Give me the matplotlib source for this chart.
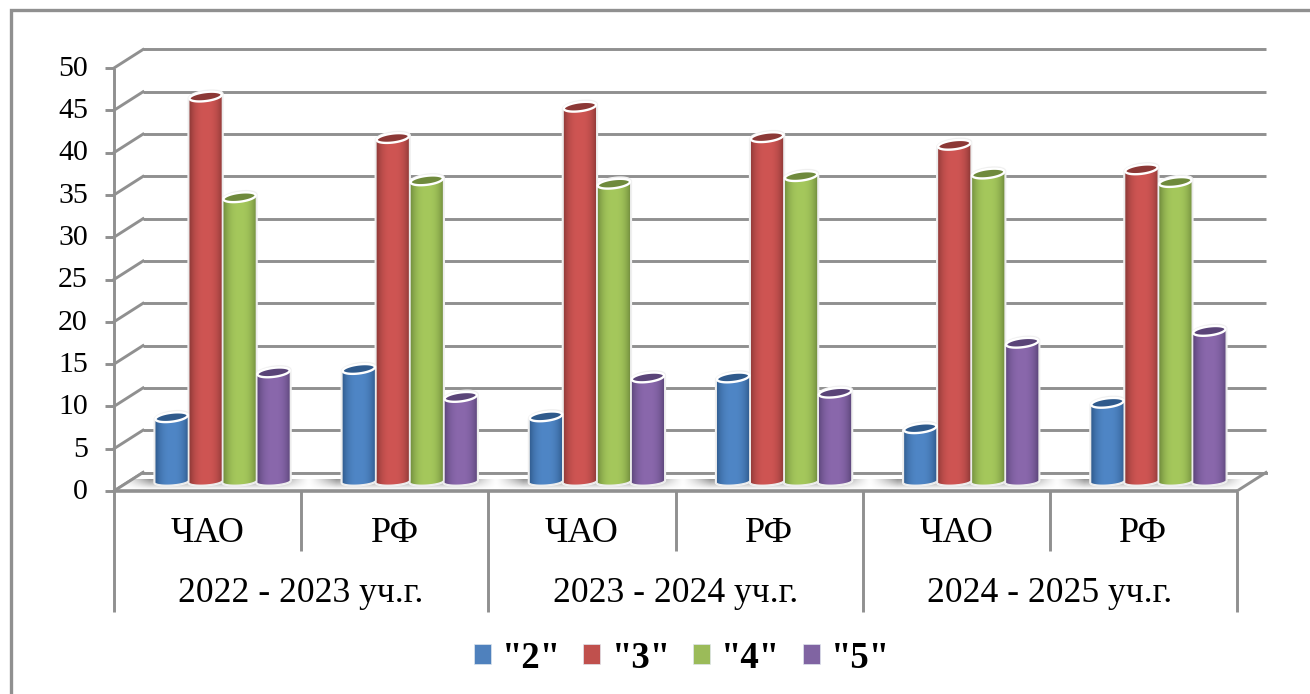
"""Столбчатая диаграмма "цилиндры": распределение отметок, ЧАО и РФ по годам."""

import numpy as np
import matplotlib
matplotlib.use("Agg")
import matplotlib.pyplot as plt
from matplotlib.patches import Patch, Polygon

plt.rcParams["font.family"] = ["Liberation Serif", "DejaVu Serif"]

REGIONS = ["ЧАО", "РФ", "ЧАО", "РФ", "ЧАО", "РФ"]
YEARS = ["2022 - 2023 уч.г.", "2023 - 2024 уч.г.", "2024 - 2025 уч.г."]
GRADE_LABELS = ['"2"', '"3"', '"4"', '"5"']

GRADE_2 = [7.6, 13.3, 7.7, 12.3, 6.3, 9.3]
GRADE_3 = [45.5, 40.6, 44.3, 40.7, 39.8, 36.9]
GRADE_4 = [33.6, 35.6, 35.2, 36.1, 36.4, 35.4]
GRADE_5 = [12.9, 10.0, 12.3, 10.5, 16.4, 17.8]
SERIES = [GRADE_2, GRADE_3, GRADE_4, GRADE_5]

YTICKS = list(range(0, 51, 5))

COLORS = ["#4f81bd", "#c0504d", "#9bbb59", "#8064a2"]
LIGHT = ["#4f86c6", "#cf5553", "#a5c85c", "#8a68ac"]
DARK = ["#2f5a8c", "#8c3836", "#6f8a3c", "#5a4478"]
GRID = "#909090"

W, H = 1310, 694
X0, Y0 = 114, 491          # начало оси, пиксели
PX_X = (1237 - 114) / 6    # пикселей на категорию
PX_Y = (491 - 68) / 50     # пикселей на единицу
DEPTH_X = 29 / PX_X
DEPTH_Y = 18.5 / PX_Y


def ellipse_pts(cx, cy, rx, ry, tilt, start=0.0, stop=2 * np.pi, n=60):
    # эллипс в единицах данных, tilt - подъем правого края (в долях ry)
    a = np.linspace(start, stop, n)
    return np.column_stack([cx + rx * np.cos(a),
                            cy + ry * np.sin(a) + tilt * ry * np.cos(a)])


def draw_cylinder(ax, xc, base, value, idx):
    rx = 16.8 / PX_X
    ry_top = 5.5 / PX_Y
    ry_bottom = 3.6 / PX_Y
    top = base + value
    bottom = ellipse_pts(xc, base, rx, ry_bottom, 0.3, np.pi, 2 * np.pi)
    upper = ellipse_pts(xc, top, rx, ry_top, 0.42, 0, np.pi)
    outline = np.vstack([bottom, upper])
    body = Polygon(outline, closed=True, facecolor=COLORS[idx], edgecolor="#f4f4f4",
                   linewidth=2.0, zorder=5)
    ax.add_patch(body)

    # горизонтальный градиент по телу цилиндра
    t = np.linspace(-1, 1, 64)
    weight = np.abs(t) ** 2.6
    rgb_l = np.array(matplotlib.colors.to_rgb(LIGHT[idx]))
    rgb_d = np.array(matplotlib.colors.to_rgb(DARK[idx]))
    img = (rgb_l[None, :] * (1 - weight[:, None]) + rgb_d[None, :] * weight[:, None])[None, :, :]
    im = ax.imshow(img, extent=(xc - rx, xc + rx, base - ry_bottom, top + ry_top), origin="lower",
                   aspect="auto", interpolation="bilinear", zorder=5.1)
    im.set_clip_path(body)
    ax.add_patch(Polygon(outline, closed=True, fill=False, edgecolor="#ececec",
                         linewidth=1.0, zorder=5.2))

    cap = Polygon(ellipse_pts(xc, top, rx * 0.96, ry_top * 0.82, 0.42), closed=True,
                  facecolor=DARK[idx], edgecolor="white", linewidth=1.7, zorder=5.3)
    ax.add_patch(cap)


fig = plt.figure(figsize=(W / 100, H / 100), dpi=100, facecolor="white")
ax = fig.add_axes([0, 0, 1, 1])
ax.set_xlim(-X0 / PX_X, (W - X0) / PX_X)
ax.set_ylim(-(H - Y0) / PX_Y, Y0 / PX_Y)
ax.axis("off")

n_cat = len(REGIONS)
xmin, xmax = ax.get_xlim()
ymin, ymax = ax.get_ylim()

# рамка диаграммы: только слева и сверху
frame_x = xmin + 11 / PX_X
frame_y = ymax - 10 / PX_Y
ax.plot([frame_x, frame_x, xmax], [ymin, frame_y, frame_y], color=GRID, lw=2.4, zorder=1,
        solid_joinstyle="miter")

# сетка: задняя стенка, диагонали и засечки
lw = 2.1
for v in YTICKS:
    ax.plot([DEPTH_X, n_cat + DEPTH_X], [v + DEPTH_Y, v + DEPTH_Y], color=GRID, lw=lw, zorder=2,
            solid_capstyle="butt")
    ax.plot([0, DEPTH_X], [v, v + DEPTH_Y], color=GRID, lw=lw, zorder=2)
    ax.plot([-9 / PX_X, 0], [v, v], color=GRID, lw=lw, zorder=2, solid_capstyle="butt")
    ax.text(-26 / PX_X, v - 0.1, str(v), ha="right", va="center", fontsize=21.5, color="black", zorder=6)
ax.plot([0, 0], [0, 50], color=GRID, lw=lw, zorder=2, solid_capstyle="butt")

# пол
floor = Polygon([(0, 0), (DEPTH_X, DEPTH_Y), (n_cat + DEPTH_X, DEPTH_Y), (n_cat, 0)], closed=True,
                facecolor="white", edgecolor="none", zorder=2.5)
ax.add_patch(floor)
ax.plot([n_cat, n_cat + DEPTH_X], [0, DEPTH_Y], color=GRID, lw=lw, zorder=3)
ax.plot([DEPTH_X, n_cat + DEPTH_X], [DEPTH_Y, DEPTH_Y], color=GRID, lw=lw, zorder=3)
ax.plot([0, DEPTH_X], [0, DEPTH_Y], color=GRID, lw=lw, zorder=3)

# тени на полу у основания столбцов
for i in range(n_cat):
    u = np.linspace(-1, 1, 120)
    alpha = np.clip((1 - np.abs(u)) * 3.3, 0, 1) ** 1.3
    v = np.linspace(0, 1, 12)[:, None]
    shade = np.zeros((12, 120, 4))
    shade[..., :3] = 0.55
    shade[..., 3] = alpha[None, :] * (0.05 + 0.85 * v)
    im = ax.imshow(shade, extent=(i + 0.03, i + 1.05, 2 / PX_Y, 12 / PX_Y), origin="lower",
                   aspect="auto", interpolation="bilinear", zorder=3.2)
    im.set_clip_path(floor)

# линии под осью
ax.plot([0, n_cat], [0, 0], color=GRID, lw=2.6, zorder=4, solid_capstyle="butt")
for i in range(n_cat + 1):
    low = -121 / PX_Y if i % 2 == 0 else -60 / PX_Y
    ax.plot([i, i], [0, low], color=GRID, lw=lw, zorder=4, solid_capstyle="butt")

# подписи категорий
for i, name in enumerate(REGIONS):
    ax.text(i + 0.5, -42 / PX_Y, name, ha="center", va="center", fontsize=26, color="black")
for i, name in enumerate(YEARS):
    ax.text(2 * i + 1, -102 / PX_Y, name, ha="center", va="center", fontsize=25.7, color="black")

# столбцы
pitch = 34 / PX_X
base = 9.5 / PX_Y
for c in range(n_cat):
    xc = c + 0.5 + 15 / PX_X
    for s, values in enumerate(SERIES):
        draw_cylinder(ax, xc + (s - 1.5) * pitch, base, values[c], s)

# легенда
handles = [Patch(facecolor=col, edgecolor="#dfe6ee", linewidth=0.5, label=lab)
           for col, lab in zip(COLORS, GRADE_LABELS)]
leg = ax.legend(handles=handles, loc="center", bbox_to_anchor=(682 / W, 1 - 658 / H),
                bbox_transform=fig.transFigure, ncol=4, frameon=False, handlelength=0.46,
                handleheight=0.46, handletextpad=0.3, columnspacing=0.62,
                prop={"size": 26.5, "weight": "bold"})

fig.savefig("out.png", dpi=100, facecolor="white")
